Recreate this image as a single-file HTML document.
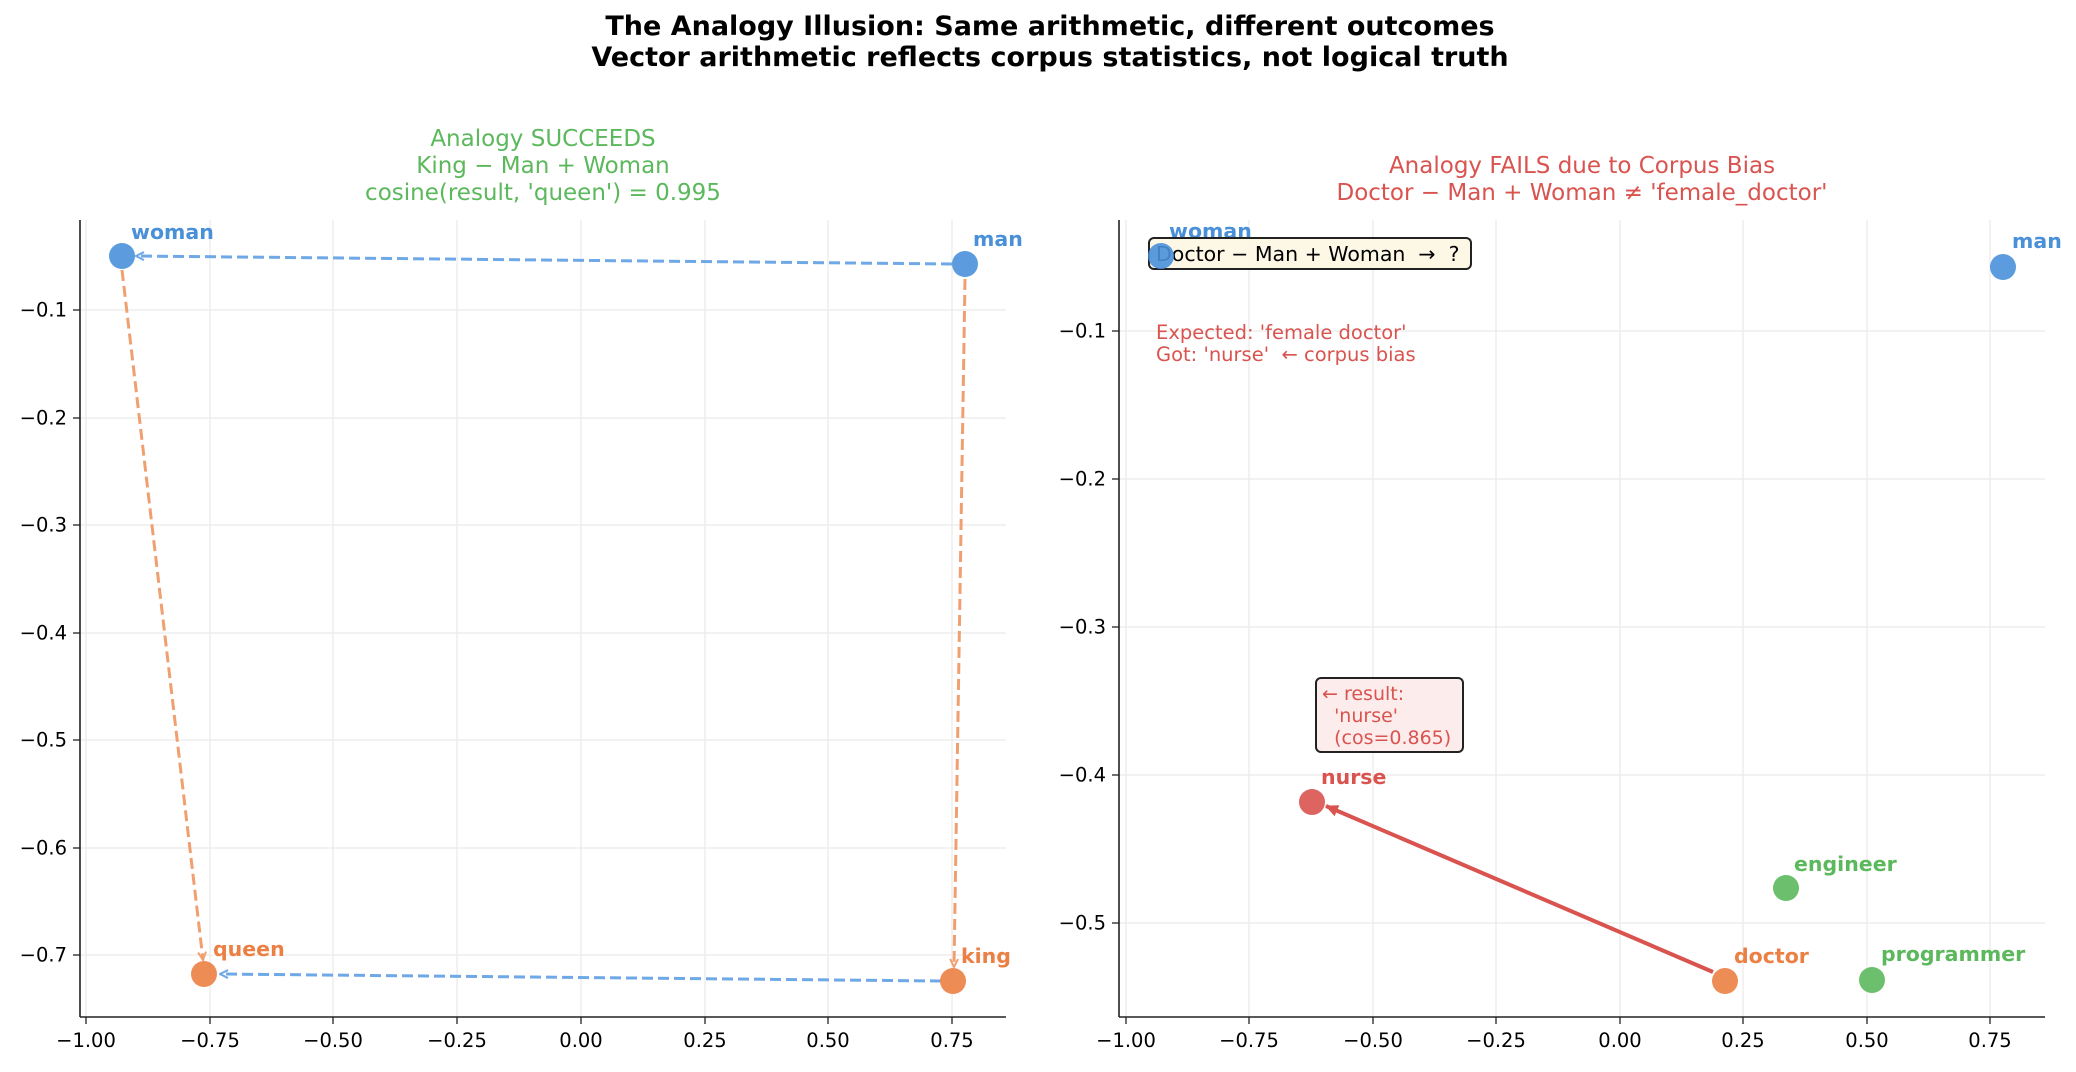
<!DOCTYPE html>
<html><head><meta charset="utf-8"><style>
html,body{margin:0;padding:0;background:#fff}
svg text{font-family:"DejaVu Sans","Liberation Sans",sans-serif;white-space:pre}
</style></head><body>
<svg width="2076" height="1067" viewBox="0 0 2076 1067" xmlns="http://www.w3.org/2000/svg">
<defs>
<marker id="ab" markerWidth="10" markerHeight="10" refX="9" refY="5" orient="auto" markerUnits="userSpaceOnUse"><path d="M1,1 L9,5 L1,9" fill="none" stroke="#6fa8e6" stroke-width="2"/></marker>
<marker id="ao" markerWidth="10" markerHeight="10" refX="9" refY="5" orient="auto" markerUnits="userSpaceOnUse"><path d="M1,1 L9,5 L1,9" fill="none" stroke="#f0a070" stroke-width="2"/></marker>
<marker id="ar" markerWidth="14" markerHeight="14" refX="12" refY="7" orient="auto" markerUnits="userSpaceOnUse"><path d="M0,1 L13,7 L0,13 Z" fill="#d9534f"/></marker>
</defs>
<rect width="2076" height="1067" fill="#fff"/>
<text x="1050" y="35" text-anchor="middle" font-size="27" font-weight="bold">The Analogy Illusion: Same arithmetic, different outcomes</text>
<text x="1050" y="66" text-anchor="middle" font-size="27" font-weight="bold">Vector arithmetic reflects corpus statistics, not logical truth</text>

<!-- LEFT -->
<text fill="#5cb85c" font-size="23" text-anchor="middle"><tspan x="543" y="146">Analogy SUCCEEDS</tspan><tspan x="543" y="173">King − Man + Woman</tspan><tspan x="543" y="200">cosine(result, 'queen') = 0.995</tspan></text>
<g stroke="#ebebeb" stroke-width="1.3">
<line x1="86" y1="220" x2="86" y2="1017"/><line x1="210" y1="220" x2="210" y2="1017"/><line x1="333" y1="220" x2="333" y2="1017"/><line x1="457" y1="220" x2="457" y2="1017"/><line x1="581" y1="220" x2="581" y2="1017"/><line x1="705" y1="220" x2="705" y2="1017"/><line x1="828" y1="220" x2="828" y2="1017"/><line x1="952" y1="220" x2="952" y2="1017"/>
<line x1="80" y1="310" x2="1006" y2="310"/><line x1="80" y1="418" x2="1006" y2="418"/><line x1="80" y1="525" x2="1006" y2="525"/><line x1="80" y1="633" x2="1006" y2="633"/><line x1="80" y1="740" x2="1006" y2="740"/><line x1="80" y1="848" x2="1006" y2="848"/><line x1="80" y1="955" x2="1006" y2="955"/>
</g>
<g stroke="#6fa8e6" stroke-width="3" stroke-dasharray="11,5" fill="none">
<line x1="952" y1="264" x2="136" y2="256" marker-end="url(#ab)"/>
<line x1="941" y1="981" x2="220" y2="974" marker-end="url(#ab)"/>
</g>
<g stroke="#f0a070" stroke-width="3" stroke-dasharray="11,5" fill="none">
<line x1="122" y1="270" x2="203" y2="960" marker-end="url(#ao)"/>
<line x1="965" y1="279" x2="954" y2="967" marker-end="url(#ao)"/>
</g>
<circle cx="122" cy="256" r="13" fill="#4a90d9" fill-opacity="0.9"/>
<circle cx="965" cy="264" r="13" fill="#4a90d9" fill-opacity="0.9"/>
<circle cx="204" cy="974" r="13" fill="#ec8044" fill-opacity="0.9"/>
<circle cx="953" cy="981" r="13" fill="#ec8044" fill-opacity="0.9"/>
<g font-size="20.5" font-weight="bold" dominant-baseline="middle">
<text x="131" y="233" fill="#4a90d9">woman</text>
<text x="973" y="240" fill="#4a90d9">man</text>
<text x="213" y="950" fill="#ec8044">queen</text>
<text x="961" y="957" fill="#ec8044">king</text>
</g>
<g stroke="#222" stroke-width="1.6">
<line x1="80" y1="220" x2="80" y2="1017"/><line x1="80" y1="1017" x2="1006" y2="1017"/>
</g>
<g stroke="#222" stroke-width="1.3">
<line x1="86" y1="1017" x2="86" y2="1024"/><line x1="210" y1="1017" x2="210" y2="1024"/><line x1="333" y1="1017" x2="333" y2="1024"/><line x1="457" y1="1017" x2="457" y2="1024"/><line x1="581" y1="1017" x2="581" y2="1024"/><line x1="705" y1="1017" x2="705" y2="1024"/><line x1="828" y1="1017" x2="828" y2="1024"/><line x1="952" y1="1017" x2="952" y2="1024"/>
<line x1="73" y1="310" x2="80" y2="310"/><line x1="73" y1="418" x2="80" y2="418"/><line x1="73" y1="525" x2="80" y2="525"/><line x1="73" y1="633" x2="80" y2="633"/><line x1="73" y1="740" x2="80" y2="740"/><line x1="73" y1="848" x2="80" y2="848"/><line x1="73" y1="955" x2="80" y2="955"/>
</g>
<g font-size="19.5" text-anchor="middle">
<text x="86" y="1047">−1.00</text><text x="210" y="1047">−0.75</text><text x="333" y="1047">−0.50</text><text x="457" y="1047">−0.25</text><text x="581" y="1047">0.00</text><text x="705" y="1047">0.25</text><text x="828" y="1047">0.50</text><text x="952" y="1047">0.75</text>
</g>
<g font-size="19.5" text-anchor="end" dominant-baseline="middle">
<text x="67" y="311">−0.1</text><text x="67" y="419">−0.2</text><text x="67" y="526">−0.3</text><text x="67" y="634">−0.4</text><text x="67" y="741">−0.5</text><text x="67" y="849">−0.6</text><text x="67" y="956">−0.7</text>
</g>

<!-- RIGHT -->
<text fill="#d9534f" font-size="23" text-anchor="middle"><tspan x="1582" y="173">Analogy FAILS due to Corpus Bias</tspan><tspan x="1582" y="200">Doctor − Man + Woman ≠ 'female_doctor'</tspan></text>
<g stroke="#ebebeb" stroke-width="1.3">
<line x1="1126" y1="220" x2="1126" y2="1017"/><line x1="1249" y1="220" x2="1249" y2="1017"/><line x1="1373" y1="220" x2="1373" y2="1017"/><line x1="1496" y1="220" x2="1496" y2="1017"/><line x1="1620" y1="220" x2="1620" y2="1017"/><line x1="1743" y1="220" x2="1743" y2="1017"/><line x1="1867" y1="220" x2="1867" y2="1017"/><line x1="1990" y1="220" x2="1990" y2="1017"/>
<line x1="1119" y1="331" x2="2045" y2="331"/><line x1="1119" y1="479" x2="2045" y2="479"/><line x1="1119" y1="627" x2="2045" y2="627"/><line x1="1119" y1="775" x2="2045" y2="775"/><line x1="1119" y1="923" x2="2045" y2="923"/>
</g>
<line x1="1713" y1="972" x2="1326" y2="806" stroke="#d9534f" stroke-width="4" marker-end="url(#ar)"/>
<circle cx="1312" cy="802" r="13" fill="#d9534f" fill-opacity="0.9"/>
<circle cx="1786" cy="888" r="13" fill="#5cb85c" fill-opacity="0.9"/>
<circle cx="1725" cy="981" r="13" fill="#ec8044" fill-opacity="0.9"/>
<circle cx="1872" cy="980" r="13" fill="#5cb85c" fill-opacity="0.9"/>
<circle cx="2003" cy="267" r="13" fill="#4a90d9" fill-opacity="0.9"/>
<g font-size="20.5" font-weight="bold" dominant-baseline="middle">
<text x="1169" y="232" fill="#4a90d9">woman</text>
<text x="2012" y="242" fill="#4a90d9">man</text>
<text x="1321" y="778" fill="#d9534f">nurse</text>
<text x="1794" y="865" fill="#5cb85c">engineer</text>
<text x="1734" y="957" fill="#ec8044">doctor</text>
<text x="1881" y="955" fill="#5cb85c">programmer</text>
</g>
<rect x="1149" y="238" width="322" height="31" rx="5" fill="#fdf6e3" fill-opacity="0.9" stroke="#222" stroke-width="2"/>
<text x="1156" y="261" font-size="20.5">Doctor − Man + Woman  →  ?</text>
<circle cx="1161" cy="256" r="13" fill="#4a90d9" fill-opacity="0.9"/>
<text fill="#d9534f" font-size="19.5"><tspan x="1156" y="339">Expected: 'female doctor'</tspan><tspan x="1156" y="361">Got: 'nurse'  ← corpus bias</tspan></text>
<rect x="1316" y="678" width="147" height="74" rx="5" fill="#fdecec" stroke="#222" stroke-width="2"/>
<text fill="#d9534f" font-size="19"><tspan x="1322" y="700">← result:</tspan><tspan x="1322" y="722">  'nurse'</tspan><tspan x="1322" y="744">  (cos=0.865)</tspan></text>
<g stroke="#222" stroke-width="1.6">
<line x1="1119" y1="220" x2="1119" y2="1017"/><line x1="1119" y1="1017" x2="2045" y2="1017"/>
</g>
<g stroke="#222" stroke-width="1.3">
<line x1="1126" y1="1017" x2="1126" y2="1024"/><line x1="1249" y1="1017" x2="1249" y2="1024"/><line x1="1373" y1="1017" x2="1373" y2="1024"/><line x1="1496" y1="1017" x2="1496" y2="1024"/><line x1="1620" y1="1017" x2="1620" y2="1024"/><line x1="1743" y1="1017" x2="1743" y2="1024"/><line x1="1867" y1="1017" x2="1867" y2="1024"/><line x1="1990" y1="1017" x2="1990" y2="1024"/>
<line x1="1112" y1="331" x2="1119" y2="331"/><line x1="1112" y1="479" x2="1119" y2="479"/><line x1="1112" y1="627" x2="1119" y2="627"/><line x1="1112" y1="775" x2="1119" y2="775"/><line x1="1112" y1="923" x2="1119" y2="923"/>
</g>
<g font-size="19.5" text-anchor="middle">
<text x="1126" y="1047">−1.00</text><text x="1249" y="1047">−0.75</text><text x="1373" y="1047">−0.50</text><text x="1496" y="1047">−0.25</text><text x="1620" y="1047">0.00</text><text x="1743" y="1047">0.25</text><text x="1867" y="1047">0.50</text><text x="1990" y="1047">0.75</text>
</g>
<g font-size="19.5" text-anchor="end" dominant-baseline="middle">
<text x="1106" y="332">−0.1</text><text x="1106" y="480">−0.2</text><text x="1106" y="628">−0.3</text><text x="1106" y="776">−0.4</text><text x="1106" y="924">−0.5</text>
</g>
</svg>
</body></html>
